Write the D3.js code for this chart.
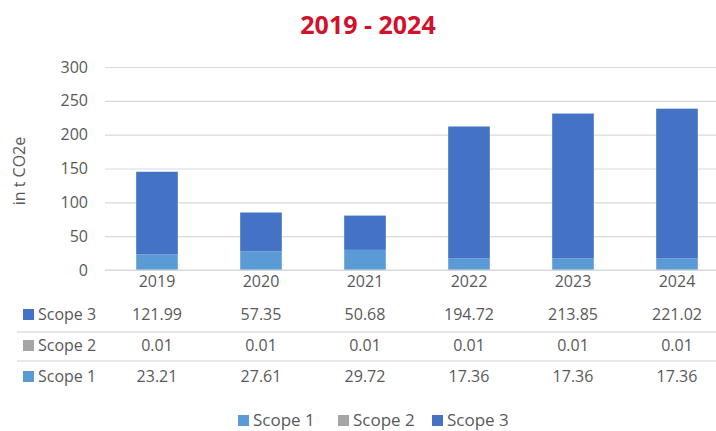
<!DOCTYPE html>
<html lang="en">
<head>
    <meta charset="UTF-8">
    <title>2019 - 2024</title>
    <script src="https://d3js.org/d3.v7.min.js"></script>
    <style>
        body { margin: 0; background: #fff; }
        text { font-family: "Open Sans", sans-serif; fill: #595959; }
    </style>
</head>
<body>

    <svg width="716" height="431"></svg>

</body>

<script>

    var years = ['2019', '2020', '2021', '2022', '2023', '2024'];
    var scope1 = [23.21, 27.61, 29.72, 17.36, 17.36, 17.36];
    var scope2 = [0.01, 0.01, 0.01, 0.01, 0.01, 0.01];
    var scope3 = [121.99, 57.35, 50.68, 194.72, 213.85, 221.02];
    var yTicks = [0, 50, 100, 150, 200, 250, 300];
    var seriesNames = ['Scope 1', 'Scope 2', 'Scope 3'];
    var colors = { 'Scope 1': '#5b9bd5', 'Scope 2': '#a5a5a5', 'Scope 3': '#4472c4' };

    var svg = d3.select('svg');

    // rows for the stack
    var rows = years.map(function (y, i) {
        return { year: y, 'Scope 1': scope1[i], 'Scope 2': scope2[i], 'Scope 3': scope3[i] };
    });

    var x = d3.scaleBand()
        .domain(years)
        .range([105, 729])
        .paddingInner(0.6)
        .paddingOuter(0.3);
    var y = d3.scaleLinear()
        .domain([0, 300])
        .range([270, 67]);

    // title
    svg.append('text')
        .attr('x', 368).attr('y', 34)
        .attr('text-anchor', 'middle')
        .style('font-size', '25px').style('font-weight', 'bold')
        .style('fill', '#d0122c')
        .text('2019 - 2024');

    // grid + y labels
    var axisY = d3.axisLeft(y).tickValues(yTicks).tickSize(-(716 - 105)).tickPadding(17);
    var gy = svg.append('g').attr('transform', 'translate(105,0)').call(axisY);
    gy.select('.domain').remove();
    gy.selectAll('line').attr('stroke', '#d9d9d9').attr('stroke-width', 1.2);
    gy.selectAll('text').style('font-size', '16px').style('font-family', '"Open Sans", sans-serif').attr('fill', '#595959');

    // y title
    svg.append('text')
        .attr('transform', 'translate(25,171) rotate(-90)')
        .attr('text-anchor', 'middle')
        .style('font-size', '16px')
        .text('in t CO2e');

    // stacked bars
    var stack = d3.stack().keys(seriesNames)(rows);
    svg.append('g').selectAll('g').data(stack).enter().append('g')
        .attr('fill', function (d) { return colors[d.key]; })
        .selectAll('rect').data(function (d) { return d; }).enter().append('rect')
        .attr('x', function (d) { return x(d.data.year); })
        .attr('y', function (d) { return y(d[1]); })
        .attr('width', x.bandwidth())
        .attr('height', function (d) { return y(d[0]) - y(d[1]); });

    // axis line + year labels
    var axisX = d3.axisBottom(x).tickSize(0).tickPadding(6);
    var gx = svg.append('g').attr('transform', 'translate(0,270)').call(axisX);
    gx.select('.domain').attr('stroke', '#d9d9d9').attr('stroke-width', 1.2).attr('d', 'M105,0H716');
    gx.selectAll('text').style('font-size', '16px').style('font-family', '"Open Sans", sans-serif').attr('fill', '#595959');

    // data table
    var tableRows = [
        { name: 'Scope 3', values: scope3, cy: 314 },
        { name: 'Scope 2', values: scope2, cy: 345 },
        { name: 'Scope 1', values: scope1, cy: 376 }
    ];
    var lineYs = [332, 361];
    svg.selectAll('.tline').data(lineYs).enter().append('line')
        .attr('x1', 17).attr('x2', 716)
        .attr('y1', function (d) { return d; }).attr('y2', function (d) { return d; })
        .attr('stroke', '#d0d0d0').attr('stroke-width', 1.2);

    var tr = svg.selectAll('.trow').data(tableRows).enter().append('g');
    tr.append('rect')
        .attr('x', 23).attr('y', function (d) { return d.cy - 5; })
        .attr('width', 11).attr('height', 11)
        .attr('fill', function (d) { return colors[d.name]; });
    tr.append('text')
        .attr('x', 38).attr('y', function (d) { return d.cy; })
        .attr('dy', '0.35em')
        .style('font-size', '16px')
        .text(function (d) { return d.name; });
    tr.selectAll('.val').data(function (d) {
        return d.values.map(function (v, i) { return { v: v, year: years[i], cy: d.cy }; });
    }).enter().append('text')
        .attr('x', function (d) { return x(d.year) + x.bandwidth() / 2; })
        .attr('y', function (d) { return d.cy; })
        .attr('dy', '0.35em')
        .attr('text-anchor', 'middle')
        .style('font-size', '16px')
        .text(function (d) { return d.v.toFixed(2); });

    // legend
    var legendX = [238, 338, 432];
    var lg = svg.selectAll('.lg').data(seriesNames).enter().append('g')
        .attr('transform', function (d, i) { return 'translate(' + legendX[i] + ',420)'; });
    lg.append('rect')
        .attr('x', 0).attr('y', -5).attr('width', 11).attr('height', 11)
        .attr('fill', function (d) { return colors[d]; });
    lg.append('text')
        .attr('x', 15).attr('dy', '0.35em')
        .style('font-size', '17px')
        .text(function (d) { return d; });

</script>

</html>
